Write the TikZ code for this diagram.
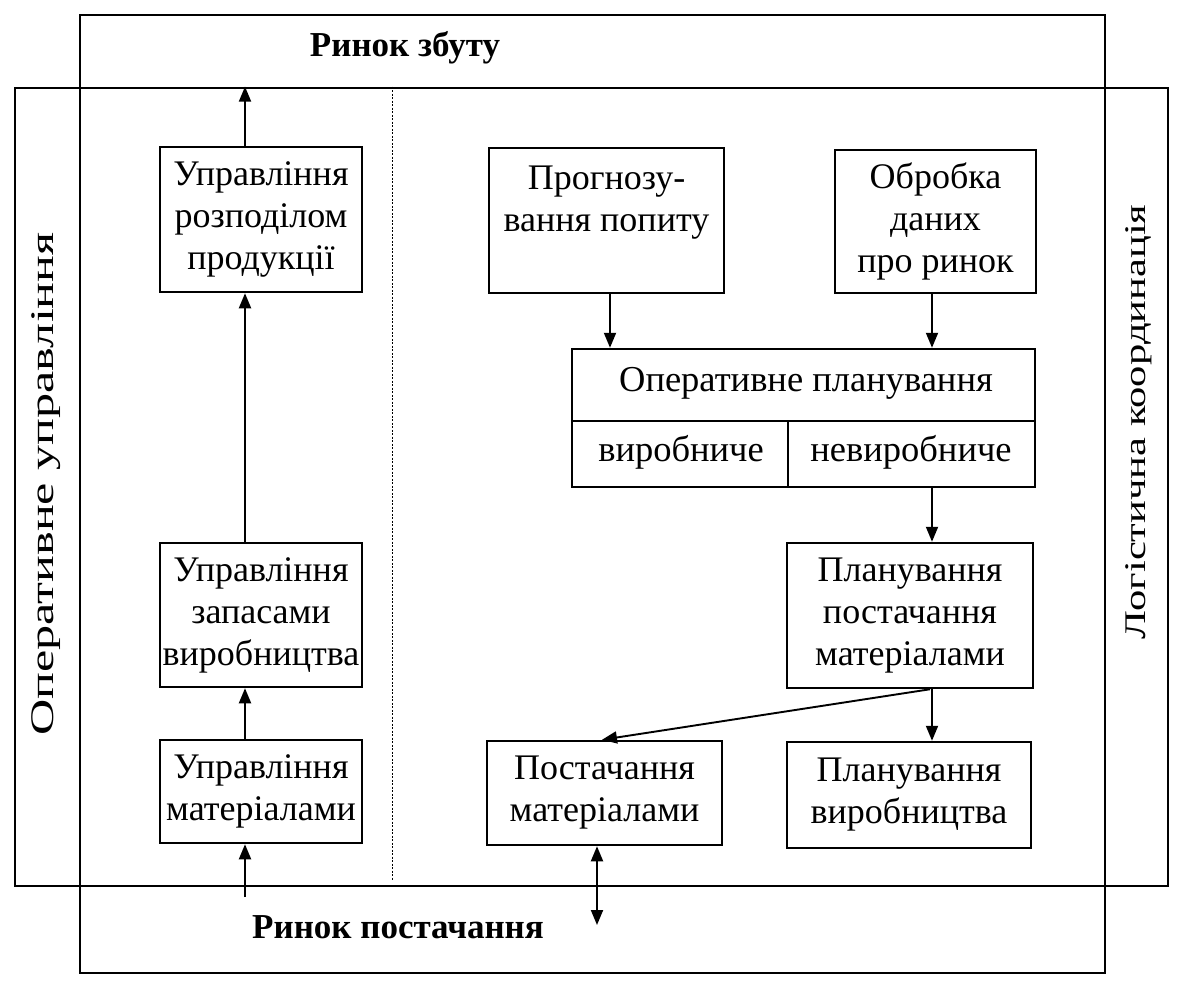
\documentclass[tikz,border=0pt]{standalone}
\usepackage{fontspec}
\usepackage{graphicx}
\setmainfont{Liberation Serif}
\usetikzlibrary{arrows.meta}
\begin{document}
\begin{tikzpicture}[x=1pt,y=-1pt,
  frame/.style={draw, line width=2.8pt, inner sep=0pt},
  blk/.style={draw, line width=2.5pt, align=center, inner sep=0pt, font=\fontsize{36}{42}\selectfont},
  txt/.style={inner sep=0pt, font=\fontsize{36.5}{42}\selectfont},
  bold/.style={inner sep=0pt, font=\fontsize{35}{40}\selectfont\bfseries},
  arr/.style={line width=1.9pt, -{Triangle[length=15pt,width=12pt]}},
  darr/.style={line width=1.9pt, {Triangle[length=15pt,width=12pt]}-{Triangle[length=15pt,width=12pt]}},
  sep/.style={line width=1pt, dash pattern=on 2pt off 1.5pt}
]
\useasboundingbox (0,0) rectangle (1184,991);

% frames
\node[frame, minimum width=1025pt, minimum height=958pt] (market) at (592.5,494) {};
\node[frame, minimum width=1153pt, minimum height=798pt] (oper) at (591.5,487) {};

\node[bold] (zbut) at (405,48) {Ринок збуту};
\node[bold] (post) at (398,927) {Ринок постачання};
\node[inner sep=0pt, rotate=90, font=\fontsize{33}{38}\selectfont] (opupr) at (46,484) {\scalebox{1.52}[1]{Оперативне управління}};
\node[inner sep=0pt, rotate=90, font=\fontsize{30}{36}\selectfont] (logk) at (1139,422) {\scalebox{1.42}[1]{Логістична координація}};

\draw[sep] (392,0 |- oper.north) -- (392,880);

% left column
\node[blk, minimum width=202pt, minimum height=145pt] (u1) at (261,219.5) {Управління\\розподілом\\продукції};
\node[blk, minimum width=202pt, minimum height=144pt] (u2) at (261,615) {Управління\\запасами\\виробництва};
\node[blk, minimum width=202pt, minimum height=103pt] (u3) at (261,791.5) {Управління\\матеріалами};
\coordinate (inL) at (245,897);

\draw[arr] (245,0 |- u1.north) -- (245,0 |- oper.north);
\draw[arr] (245,0 |- u2.north) -- (245,0 |- u1.south);
\draw[arr] (245,0 |- u3.north) -- (245,0 |- u2.south);
\draw[arr] (inL) -- (245,0 |- u3.south);

% right column
\node[blk, minimum width=235pt, minimum height=145pt] (pr) at (606.5,220.5) {Прогнозу-\\вання попиту\\[2pt]\mbox{}};
\node[blk, minimum width=201pt, minimum height=143pt] (ob) at (935.5,221.5) {Обробка\\даних\\про ринок};
\node[blk, minimum width=463pt, minimum height=138pt] (op) at (803.5,418) {};
\draw[line width=2.5pt] (op.west |- 0,421) -- (op.east |- 0,421);
\draw[line width=2.5pt] (788,421) -- (788,0 |- op.south);
\node[txt] (opt) at (806,383) {Оперативне планування};
\node[txt] (opa) at (681,452) {виробниче};
\node[txt] (opb) at (911,452) {невиробниче};

\node[blk, minimum width=246pt, minimum height=145pt] (pp) at (910,615.5) {Планування\\постачання\\матеріалами};
\node[blk, minimum width=235pt, minimum height=104pt] (pm) at (604.5,793) {Постачання\\матеріалами};
\node[blk, minimum width=244pt, minimum height=106pt] (pv) at (909,795) {Планування\\виробництва};
\coordinate (inR) at (597,925);

\draw[arr] (610,0 |- pr.south) -- (610,0 |- op.north);
\draw[arr] (932,0 |- ob.south) -- (932,0 |- op.north);
\draw[arr] (932,0 |- op.south) -- (932,0 |- pp.north);
\draw[arr] (932,0 |- pp.south) -- (932,0 |- pv.north);
\draw[arr] (930,0 |- pp.south) -- (602,0 |- pm.north);
\draw[darr] (597,0 |- pm.south) -- (inR);
\end{tikzpicture}
\end{document}
